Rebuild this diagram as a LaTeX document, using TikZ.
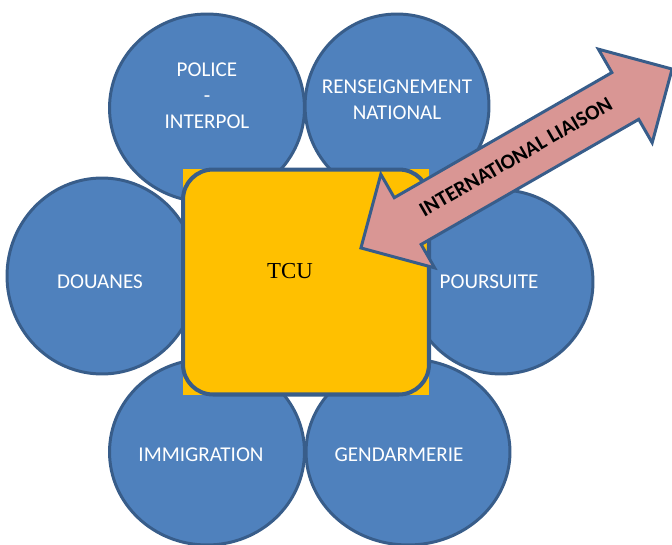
\documentclass[tikz,border=0pt]{standalone}
\usepackage{fontspec}
\setmainfont{Carlito}
\newfontfamily\tcufont{Liberation Serif}
\usepackage{xcolor}
\definecolor{agency-blue}{HTML}{4F81BD}
\definecolor{agency-line}{HTML}{385D8A}
\definecolor{tcu-yellow}{HTML}{FFC000}
\definecolor{liaison-pink}{HTML}{D99694}
\usepackage{tikz}
\usetikzlibrary{shapes.geometric}
\usetikzlibrary{shapes.arrows}
\tikzset{agency/.style = {ellipse, draw=agency-line, fill=agency-blue, line width=1.7pt, inner sep=0pt}}
\tikzset{lbl/.style = {text=white, align=center, font=\fontsize{12}{14.8}\selectfont}}
\tikzset{hub/.style = {draw=agency-line, fill=tcu-yellow, rounded corners=0.6cm, line width=2.3pt, minimum width=4.92cm, minimum height=4.5cm}}
\tikzset{liaison/.style = {double arrow, draw=agency-line, fill=liaison-pink, line width=1.7pt,
  double arrow head extend=0.54cm, minimum width=2.1cm, minimum height=7.18cm,
  inner xsep=0pt, inner ysep=10pt, text height=7.5pt, text depth=1.5pt,
  font=\bfseries\fontsize{12}{14}\selectfont}}

\begin{document}
\begin{tikzpicture}[x=0.02cm, y=-0.02cm]
\useasboundingbox (0,0) rectangle (672,544);

\node[agency, minimum width=3.9cm, minimum height=3.76cm,
  label={[lbl, yshift=0.24cm]center:POLICE\\-\\INTERPOL}] (police) at (207,108) {};
\node[agency, minimum width=3.68cm, minimum height=3.68cm,
  label={[lbl, yshift=0.13cm]center:RENSEIGNEMENT\\NATIONAL}] (rens) at (397,106) {};
\node[agency, minimum width=3.8cm, minimum height=3.92cm,
  label={[lbl, xshift=-0.04cm, yshift=-0.12cm]center:DOUANES}] (douanes) at (102,276) {};
\node[agency, minimum width=3.68cm, minimum height=3.68cm,
  label={[lbl, xshift=-0.24cm]center:POURSUITE}] (poursuite) at (501,282) {};
\node[agency, minimum width=3.9cm, minimum height=3.72cm,
  label={[lbl, xshift=-0.12cm, yshift=-0.06cm]center:IMMIGRATION}] (immigration) at (207,452) {};
\node[agency, minimum width=4.08cm, minimum height=3.72cm,
  label={[lbl, xshift=-0.18cm, yshift=-0.06cm]center:GENDARMERIE}] (gendarmerie) at (408,452) {};

% square yellow back, the rounded box sits on it
\fill[tcu-yellow] (183,169) rectangle (429,395);
\node[hub, label={[font=\tcufont\fontsize{13}{15}\selectfont, xshift=-0.32cm, yshift=0.21cm]center:TCU}] (tcu) at (306,282) {};

\node[liaison, rotate=29.9] (liaison) at (516.5,158.5) {INTERNATIONAL LIAISON};

\end{tikzpicture}
\end{document}
